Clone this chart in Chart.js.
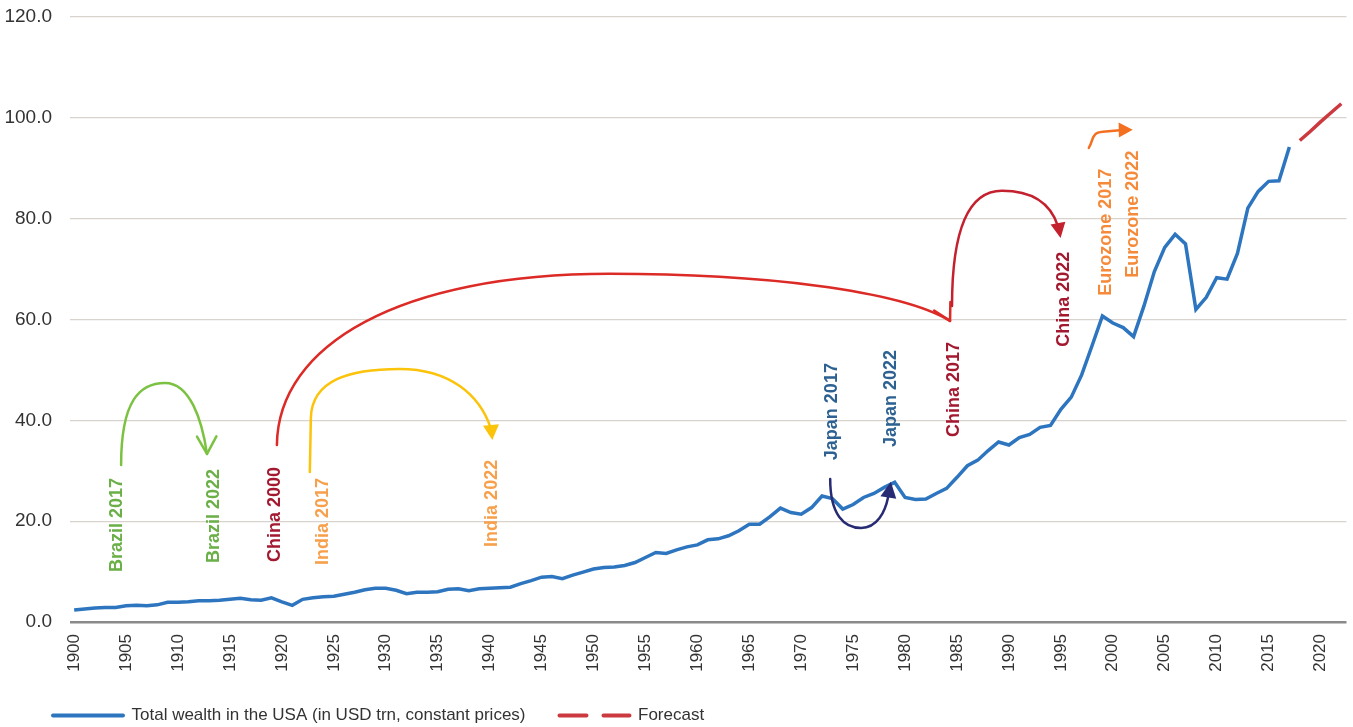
<!DOCTYPE html>
<html>
<head>
<meta charset="utf-8">
<title>Total wealth in the USA</title>
<script src="https://cdn.jsdelivr.net/npm/chart.js@4.4.1/dist/chart.umd.min.js"></script>
<style>
    html, body { margin: 0; padding: 0; background: #fff; }
    #wrapper { width: 1353px; height: 727px; position: relative; }
</style>
</head>
<body>
<div id="wrapper"><canvas id="wealthChart"></canvas></div>
<script>
// years 1900 - 2017 (USD trn)
const firstYear = 1900;
const wealth = [
    2.4, 2.6, 2.8, 2.9, 2.9, 3.2, 3.3, 3.2, 3.4, 3.9,
    3.9, 4.0, 4.2, 4.2, 4.3, 4.5, 4.7, 4.4, 4.3, 4.8,
    4.0, 3.3, 4.5, 4.8, 5.0, 5.1, 5.5, 5.9, 6.4, 6.7,
    6.7, 6.3, 5.6, 5.9, 5.9, 6.0, 6.5, 6.6, 6.2, 6.6,
    6.7, 6.8, 6.9, 7.6, 8.2, 8.9, 9.0, 8.6, 9.3, 9.9,
    10.5, 10.8, 10.9, 11.2, 11.8, 12.8, 13.8, 13.6, 14.3, 14.9,
    15.3, 16.3, 16.5, 17.1, 18.1, 19.4, 19.4, 20.9, 22.6, 21.7,
    21.4, 22.7, 25.0, 24.5, 22.4, 23.3, 24.7, 25.5, 26.7, 27.7,
    24.7, 24.3, 24.4, 25.5, 26.5, 28.7, 31.0, 32.1, 34.0, 35.7,
    35.1, 36.6, 37.2, 38.6, 39.0, 42.2, 44.6, 49.0, 54.8, 60.7,
    59.3, 58.4, 56.6, 62.7, 69.5, 74.3, 76.9, 75.0, 62.0, 64.4,
    68.3, 68.0, 73.1, 82.1, 85.4, 87.4, 87.5, 94.2
];
const years = wealth.map((v, i) => firstYear + i);

const forecastYears = [2018, 2019, 2020, 2021, 2022];
const forecast = [95.5, 97.3, 99.2, 101.0, 102.8];

const yTicks = [0, 20, 40, 60, 80, 100, 120];

const seriesNames = ['Total wealth in the USA (in USD trn, constant prices)', 'Forecast'];

// country labels, [year, value] of where the text starts
const notes = [
    { text: 'Brazil 2017', at: [1904.1, 9.9], color: '#6aaf47' },
    { text: 'Brazil 2022', at: [1913.5, 11.7], color: '#6aaf47' },
    { text: 'China 2000', at: [1919.3, 11.9], color: '#a3192f' },
    { text: 'India 2017', at: [1924.0, 11.3], color: '#f7a04c' },
    { text: 'India 2022', at: [1940.2, 14.9], color: '#f7a04c' },
    { text: 'Japan 2017', at: [1973.0, 32.1], color: '#2c6191' },
    { text: 'Japan 2022', at: [1978.6, 34.7], color: '#2c6191' },
    { text: 'China 2017', at: [1984.7, 36.7], color: '#a3192f' },
    { text: 'China 2022', at: [1995.3, 54.6], color: '#a3192f' },
    { text: 'Eurozone 2017', at: [1999.3, 64.7], color: '#f58a3a' },
    { text: 'Eurozone 2022', at: [2001.9, 68.3], color: '#f58a3a' }
];

// curved arrows, path = start point then line / bezier segments
const arrows = [
    { color: '#7cc242', path: [[1904.52, 31.15],
        [[1904.52, 44.05], [1906.35, 47.42], [1908.75, 47.42]],
        [[1911.15, 47.42], [1912.31, 40.08], [1912.79, 33.33]]],
      head: { tip: [1912.79, 33.33], dir: 89, len: 20, spread: 29, open: true } },
    { color: '#dc2a26', path: [[1919.52, 35.12],
        [[1919.62, 54.96], [1931.35, 69.05], [1951.54, 69.05]],
        [[1965.96, 69.05], [1979.42, 65.87], [1984.33, 59.72]]],
      head: { tip: [1984.33, 59.72], dir: 62, len: 19, spread: 29, open: true } },
    { color: '#fcc30b', path: [[1922.69, 29.76],
        [[1922.79, 40.48]],
        [[1922.88, 48.02], [1926.54, 50.20], [1931.35, 50.20]],
        [[1936.15, 50.20], [1939.04, 45.04], [1940.10, 38.49]]],
      head: { tip: [1940.26, 36.11], dir: 85, len: 15, half: 8 } },
    { color: '#262b73', path: [[1972.79, 28.37],
        [[1972.79, 21.23], [1974.13, 18.65], [1975.77, 18.65]],
        [[1977.31, 18.65], [1978.08, 21.83], [1978.37, 24.80]]],
      head: { tip: [1978.63, 27.84], dir: -81, len: 16, half: 8 } },
    { color: '#c4212f', path: [[1984.52, 62.70],
        [[1984.52, 77.78], [1986.15, 85.52], [1989.33, 85.52]],
        [[1992.40, 85.52], [1994.04, 82.74], [1994.71, 78.57]]],
      head: { tip: [1994.97, 76.19], dir: 80, len: 15, half: 7.5 } },
    { color: '#f37021', path: [[1997.69, 94.05],
        [[1998.17, 95.63], [1997.88, 97.02], [1999.04, 97.22]],
        [[2000.67, 97.52]]],
      head: { tip: [2001.92, 97.62], dir: -1, len: 14, half: 7.5 } }
];

const fontFamily = '"Liberation Sans", Arial, Helvetica, sans-serif';
Chart.defaults.font.family = fontFamily;
Chart.defaults.color = '#333';

function toPx(chart, p) {
    return [chart.scales.x.getPixelForValue(p[0]), chart.scales.y.getPixelForValue(p[1])];
}

const notesPlugin = {
    id: 'notes',
    afterLayout(chart) {
        // legend starts a little right of the canvas edge
        if (chart.legend) chart.legend.left = 19;
    },
    afterDatasetsDraw(chart) {
        const ctx = chart.ctx;
        ctx.save();
        arrows.forEach(a => {
            ctx.strokeStyle = a.color;
            ctx.fillStyle = a.color;
            ctx.lineWidth = 2.5;
            ctx.lineCap = 'round';
            ctx.lineJoin = 'round';
            ctx.beginPath();
            const s = toPx(chart, a.path[0]);
            ctx.moveTo(s[0], s[1]);
            a.path.slice(1).forEach(seg => {
                const q = seg.map(p => toPx(chart, p));
                if (q.length === 1) ctx.lineTo(q[0][0], q[0][1]);
                else ctx.bezierCurveTo(q[0][0], q[0][1], q[1][0], q[1][1], q[2][0], q[2][1]);
            });
            ctx.stroke();

            const h = a.head;
            const t = toPx(chart, h.tip);
            const r = h.dir * Math.PI / 180;
            ctx.beginPath();
            if (h.open) {
                const sp = h.spread * Math.PI / 180;
                ctx.moveTo(t[0] - h.len * Math.cos(r - sp), t[1] - h.len * Math.sin(r - sp));
                ctx.lineTo(t[0], t[1]);
                ctx.lineTo(t[0] - h.len * Math.cos(r + sp), t[1] - h.len * Math.sin(r + sp));
                ctx.stroke();
            } else {
                const bx = t[0] - h.len * Math.cos(r), by = t[1] - h.len * Math.sin(r);
                const nx = -Math.sin(r) * h.half, ny = Math.cos(r) * h.half;
                ctx.moveTo(t[0], t[1]);
                ctx.lineTo(bx + nx, by + ny);
                ctx.lineTo(bx - nx, by - ny);
                ctx.closePath();
                ctx.fill();
            }
        });

        notes.forEach(n => {
            const p = toPx(chart, n.at);
            ctx.save();
            ctx.translate(p[0], p[1]);
            ctx.rotate(-Math.PI / 2);
            ctx.font = 'bold 18px ' + fontFamily;
            ctx.fillStyle = n.color;
            ctx.textAlign = 'left';
            ctx.textBaseline = 'middle';
            ctx.fillText(n.text, 0, 0);
            ctx.restore();
        });
        ctx.restore();
    }
};

const context = document.getElementById('wealthChart').getContext('2d');

new Chart(context, {
    type: 'line',
    data: {
        datasets: [{
            label: seriesNames[0],
            data: years.map((yr, i) => ({ x: yr, y: wealth[i] })),
            borderColor: '#2e75c0',
            borderWidth: 3.5,
            pointRadius: 0,
            tension: 0
        }, {
            label: seriesNames[1],
            data: forecastYears.map((yr, i) => ({ x: yr, y: forecast[i] })),
            borderColor: '#cc3a40',
            borderWidth: 3.5,
            pointRadius: 0,
            tension: 0
        }]
    },
    options: {
        responsive: true,
        maintainAspectRatio: false,
        animation: false,
        layout: { padding: { left: 0, right: 3, top: 17, bottom: 2 } },
        plugins: {
            tooltip: { enabled: false },
            legend: {
                position: 'bottom',
                align: 'start',
                maxHeight: 52,
                labels: {
                    usePointStyle: true,
                    pointStyle: 'line',
                    pointStyleWidth: 70,
                    padding: 34,
                    color: '#333',
                    font: { size: 17 },
                    generateLabels(chart) {
                        const items = Chart.defaults.plugins.legend.labels.generateLabels(chart);
                        items.forEach((it, i) => {
                            it.lineWidth = 4;
                            it.lineCap = 'round';
                            it.lineDash = i === 1 ? [27, 17] : [];
                        });
                        return items;
                    }
                }
            }
        },
        scales: {
            x: {
                type: 'linear',
                min: 1899.6,
                max: 2022.5,
                afterFit: scale => { scale.height = 51; },
                grid: { display: false, drawTicks: false },
                border: { display: false },
                ticks: {
                    stepSize: 5,
                    includeBounds: false,
                    autoSkip: false,
                    minRotation: 90,
                    maxRotation: 90,
                    padding: 12,
                    color: '#333',
                    font: { size: 17 },
                    callback: v => String(v)
                }
            },
            y: {
                min: yTicks[0],
                max: yTicks[yTicks.length - 1],
                afterFit: scale => {
                    scale.width = 70;
                    scale.paddingTop = 0;
                    scale.paddingBottom = 0;
                },
                border: { display: false },
                grid: {
                    drawTicks: false,
                    color: c => c.tick && c.tick.value === 0 ? '#8a8a8a' : '#d9d3ce',
                    lineWidth: c => c.tick && c.tick.value === 0 ? 2.5 : 1.2
                },
                ticks: {
                    stepSize: 20,
                    padding: 18,
                    color: '#333',
                    font: { size: 19 },
                    callback: v => v.toFixed(1)
                }
            }
        }
    },
    plugins: [notesPlugin]
});
</script>
</body>
</html>
